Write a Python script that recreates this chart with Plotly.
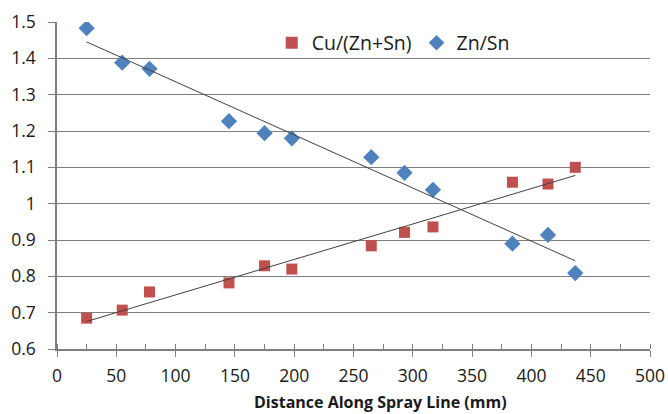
import numpy as np
import plotly.graph_objects as go

# Sample positions along the spray line (mm)
distance = [25, 55, 78, 145, 175, 198, 265, 293, 317, 384, 414, 437]

# Composition ratios measured at each position
cu_zn_sn = [0.685, 0.707, 0.757, 0.782, 0.829, 0.820, 0.884, 0.921, 0.936, 1.059, 1.054, 1.100]
zn_sn = [1.483, 1.388, 1.371, 1.227, 1.194, 1.180, 1.128, 1.085, 1.038, 0.890, 0.914, 0.809]

y_ticks = [0.6, 0.7, 0.8, 0.9, 1.0, 1.1, 1.2, 1.3, 1.4, 1.5]
y_tick_text = ["0.6", "0.7", "0.8", "0.9", "1", "1.1", "1.2", "1.3", "1.4", "1.5"]
x_ticks = list(range(0, 501, 50))
x_title = "Distance Along Spray Line (mm)"

RED = "#C0504D"
BLUE = "#4F81BD"
GRID = "#7F7F7F"
FONT = "Open Sans"


def linear_trend(x, y):
    slope, intercept = np.polyfit(x, y, 1)
    xs = np.array([min(x), max(x)])
    return xs, slope * xs + intercept


fig = go.Figure()

fig.add_trace(go.Scatter(
    x=distance, y=cu_zn_sn, mode="markers", name="Cu/(Zn+Sn)",
    marker=dict(symbol="square", size=11, color=RED),
))
fig.add_trace(go.Scatter(
    x=distance, y=zn_sn, mode="markers", name="Zn/Sn",
    marker=dict(symbol="diamond", size=12.5, color=BLUE),
))

# Linear trendlines for both ratios
for ys in (cu_zn_sn, zn_sn):
    tx, ty = linear_trend(distance, ys)
    fig.add_trace(go.Scatter(
        x=tx, y=ty, mode="lines", showlegend=False, hoverinfo="skip",
        line=dict(color="#404040", width=1),
    ))

# X-axis title, set a little right of centre under the axis
fig.add_annotation(
    text="<b>" + x_title + "</b>", xref="paper", yref="paper",
    x=0.546, y=-0.163, xanchor="center", yanchor="middle",
    showarrow=False, font=dict(size=16, family=FONT, color="#1a1a1a"),
)

fig.update_layout(
    width=668, height=414,
    margin=dict(l=57, r=18, t=22, b=65),
    plot_bgcolor="white", paper_bgcolor="white",
    font=dict(family=FONT, color="#1a1a1a"),
    legend=dict(
        orientation="h", x=0.567, y=0.995, xanchor="center", yanchor="top",
        bgcolor="rgba(0,0,0,0)", font=dict(size=19.5, family=FONT),
        itemsizing="constant", tracegroupgap=0,
    ),
    xaxis=dict(
        range=[0, 500], tickvals=x_ticks, showgrid=False, automargin=False,
        showline=True, linecolor=GRID, linewidth=1.5,
        ticks="outside", ticklen=6, tickcolor=GRID,
        minor=dict(dtick=25, tick0=0, ticks="inside", ticklen=5, tickcolor=GRID),
        tickfont=dict(size=17.5), ticklabelstandoff=4,
        zeroline=False,
    ),
    # companion axis so the major x ticks cross the axis line
    xaxis2=dict(
        range=[0, 500], tickvals=x_ticks, overlaying="x", anchor="y", side="bottom",
        showgrid=False, showline=False, showticklabels=False, zeroline=False,
        ticks="inside", ticklen=6, tickcolor=GRID,
    ),
    yaxis=dict(
        range=[0.6, 1.5], tickvals=y_ticks, ticktext=y_tick_text, automargin=False,
        showgrid=True, gridcolor=GRID, gridwidth=1.3,
        showline=True, linecolor=GRID, linewidth=1.5,
        ticks="outside", ticklen=7, tickcolor=GRID,
        tickfont=dict(size=17.5), ticklabelstandoff=9, zeroline=False,
    ),
)

fig.write_html("out.html")
